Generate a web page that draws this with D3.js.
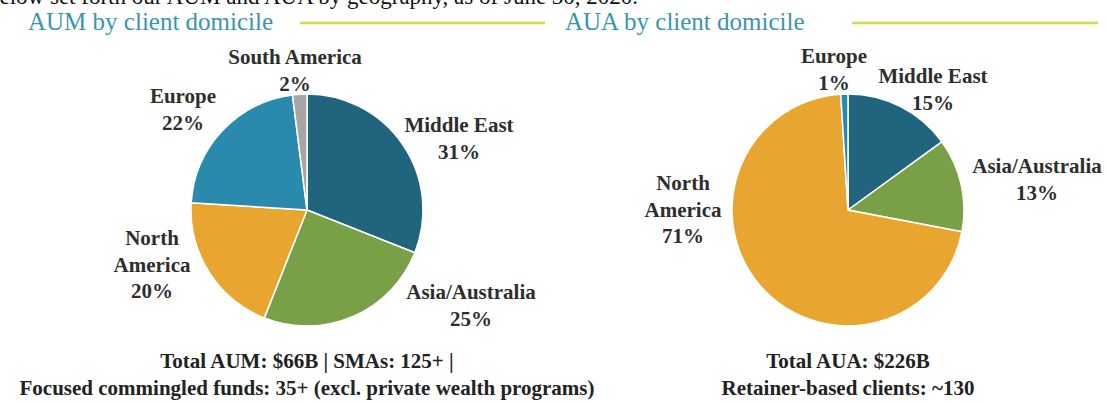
<!DOCTYPE html>
<html>
<head>
<meta charset="utf-8">
<script src="https://cdn.jsdelivr.net/npm/d3@7"></script>
<style>
  body { margin: 0; background: #fff; }
  svg { display: block; }
  text { font-family: "Liberation Serif", "Times New Roman", serif; }
</style>
</head>
<body>
<svg id="chart" width="1106" height="403"></svg>
<script>
// AUM / AUA split by client domicile (two pies)

var aumRegions = ["Middle East", "Asia/Australia", "North America", "Europe", "South America"];
var aumShares = [31, 25, 20, 22, 2];

var auaRegions = ["Middle East", "Asia/Australia", "North America", "Europe"];
var auaShares = [15, 13, 71, 1];

var aumFooter = ["Total AUM: $66B | SMAs: 125+ |", "Focused commingled funds: 35+ (excl. private wealth programs)"];
var auaFooter = ["Total AUA: $226B", "Retainer-based clients: ~130"];

var colors = {
    "Middle East": "#21647e",
    "Asia/Australia": "#79a046",
    "North America": "#e8a630",
    "Europe": "#2a8aae",
    "South America": "#a6a6a6"
};

var svg = d3.select("#chart");

// cut-off sentence from the page above the chart
svg.append("text")
    .attr("x", -12)
    .attr("y", 4)
    .attr("font-size", 23)
    .attr("fill", "#111")
    .text("below set forth our AUM and AUA by geography, as of June 30, 2020.");

var panels = [
    {
        title: "AUM by client domicile", tx: 28, line: [300, 545],
        cx: 307, cy: 210, regions: aumRegions, shares: aumShares, footer: aumFooter,
        labels: {
            "South America": [295, 64, ["South America"]],
            "Europe": [183, 103, ["Europe"]],
            "Middle East": [459, 132, ["Middle East"]],
            "North America": [152, 245, ["North", "America"]],
            "Asia/Australia": [471, 299, ["Asia/Australia"]]
        }
    },
    {
        title: "AUA by client domicile", tx: 565, line: [852, 1098],
        cx: 848, cy: 210, regions: auaRegions, shares: auaShares, footer: auaFooter,
        labels: {
            "Europe": [834, 63, ["Europe"]],
            "Middle East": [933, 83, ["Middle East"]],
            "Asia/Australia": [1037, 173, ["Asia/Australia"]],
            "North America": [683, 190, ["North", "America"]]
        }
    }
];

var radius = 116;
var lineGap = 26.5;

panels.forEach(function(p) {

    svg.append("text")
        .attr("x", p.tx)
        .attr("y", 30)
        .attr("font-size", 25)
        .attr("fill", "#3a94b0")
        .text(p.title);

    svg.append("line")
        .attr("x1", p.line[0]).attr("x2", p.line[1])
        .attr("y1", 23).attr("y2", 23)
        .attr("stroke", "#d3da45")
        .attr("stroke-width", 2.5);

    var data = p.regions.map(function(r, i) { return { region: r, value: p.shares[i] }; });

    var pie = d3.pie().sort(null).value(function(d) { return d.value; });
    var arc = d3.arc().innerRadius(0).outerRadius(radius);

    var g = svg.append("g")
        .attr("transform", "translate(" + p.cx + "," + p.cy + ")");

    g.selectAll(".slice")
        .data(pie(data))
        .enter().append("path")
        .attr("class", "slice")
        .attr("d", arc)
        .attr("fill", function(d) { return colors[d.data.region]; })
        .attr("stroke", "#fff")
        .attr("stroke-width", 1.5);

    // labels: name lines then percentage
    data.forEach(function(d) {
        var lab = p.labels[d.region];
        var lines = lab[2].concat([d.value + "%"]);
        var t = svg.append("text")
            .attr("text-anchor", "middle")
            .attr("font-size", 21)
            .attr("font-weight", "bold")
            .attr("fill", "#2e2e2e");
        lines.forEach(function(s, i) {
            t.append("tspan")
                .attr("x", lab[0])
                .attr("y", lab[1] + i * lineGap)
                .text(s);
        });
    });

    p.footer.forEach(function(s, i) {
        svg.append("text")
            .attr("x", p.cx)
            .attr("y", 368 + i * 26.5)
            .attr("text-anchor", "middle")
            .attr("font-size", 21)
            .attr("font-weight", "bold")
            .attr("fill", "#222")
            .text(s);
    });
});
</script>
</body>
</html>
